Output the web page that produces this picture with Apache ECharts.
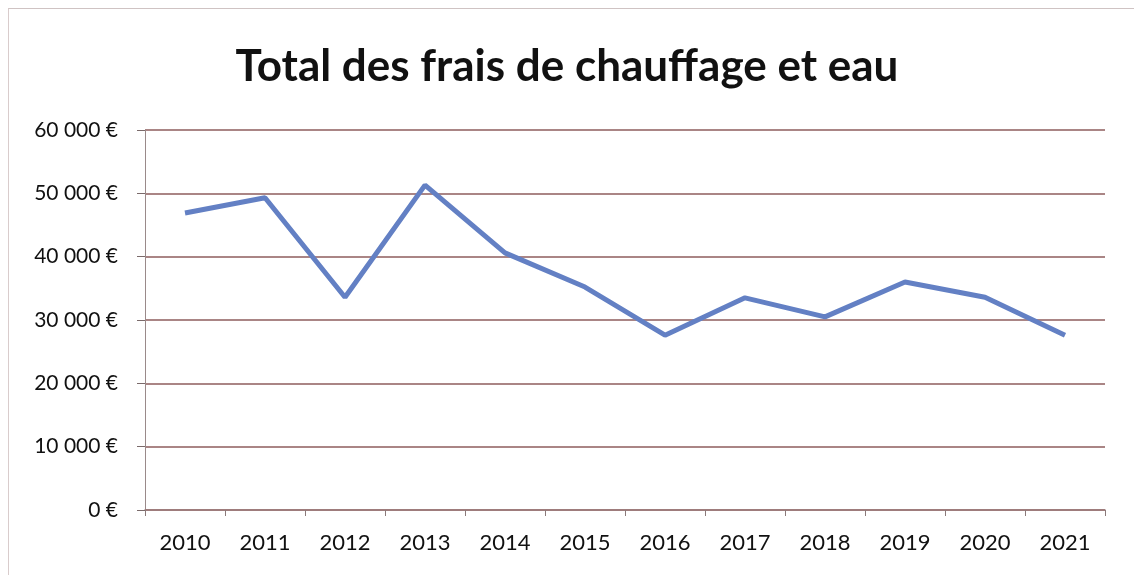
<!DOCTYPE html>
<html>
<head>
<meta charset="utf-8">
<script src="https://cdn.jsdelivr.net/npm/echarts@6/dist/echarts.min.js"></script>
<style>
  html, body { margin: 0; padding: 0; background: #fff; }
  #chart { width: 1134px; height: 575px; }
  .frame { position: absolute; left: 8px; top: 8px; width: 1126px; height: 567px;
           border-top: 1px solid #cfc3c3; border-left: 1px solid #d9cccc; pointer-events: none; }
</style>
</head>
<body>
<div id="chart"></div>
<div class="frame"></div>
<script>
// années et montants
const years = ['2010', '2011', '2012', '2013', '2014', '2015', '2016', '2017', '2018', '2019', '2020', '2021'];
const totals = [46900, 49300, 33600, 51300, 40600, 35200, 27600, 33500, 30500, 36000, 33600, 27600];

const chart = echarts.init(document.getElementById('chart'));

function euro(v) {
  return String(v).replace(/\B(?=(\d{3})+(?!\d))/g, ' ') + ' €';
}

const option = {
  animation: false,
  title: {
    text: 'Total des frais de chauffage et eau',
    left: 'center',
    top: 40,
    textStyle: {
      fontFamily: 'Lato',
      fontWeight: 'bold',
      fontSize: 44,
      color: '#111'
    }
  },
  grid: { left: 145, right: 29, top: 130, bottom: 65 },
  xAxis: {
    type: 'category',
    data: years,
    boundaryGap: true,
    axisLine: { lineStyle: { color: '#9a7a7a', width: 1.5 } },
    axisTick: { show: true, length: 6, lineStyle: { color: '#8a7a7a' } },
    axisLabel: { color: '#111', fontSize: 22, fontFamily: 'Lato', margin: 22 }
  },
  yAxis: {
    type: 'value',
    min: 0,
    max: 60000,
    interval: 10000,
    axisLine: { show: true, lineStyle: { color: '#9a8a8a', width: 1 } },
    axisTick: { show: true, length: 8, lineStyle: { color: '#7a6a6a' } },
    axisLabel: {
      color: '#111', fontSize: 21, fontFamily: 'Lato', margin: 27,
      formatter: euro
    },
    splitLine: { lineStyle: { color: '#8e5c5c', width: 1.5 } }
  },
  series: [
    {
      name: 'Total',
      type: 'line',
      data: totals,
      symbol: 'none',
      lineStyle: { color: '#6380c4', width: 5 }
    }
  ]
};

chart.setOption(option);
</script>
</body>
</html>
